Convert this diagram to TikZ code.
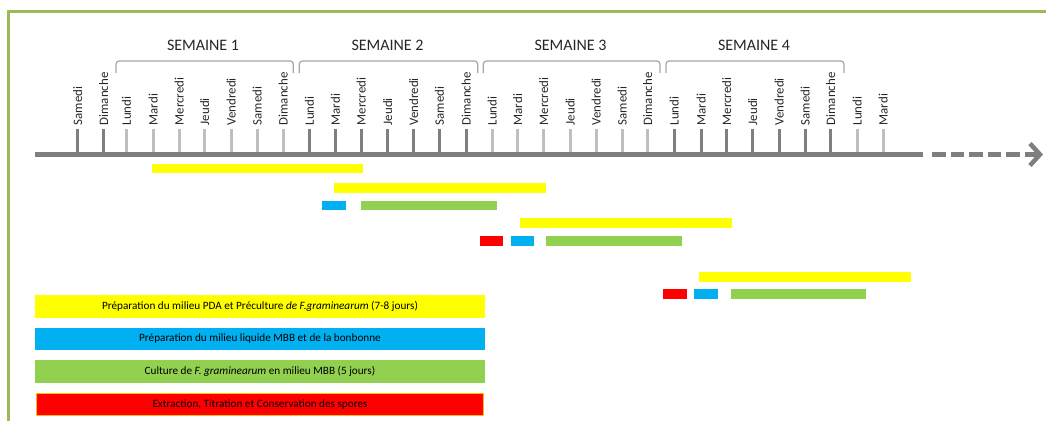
\documentclass[tikz,border=0pt]{standalone}
\usepackage{fontspec}
\setmainfont{Carlito}
\usetikzlibrary{arrows.meta}
\definecolor{frameG}{HTML}{9BBB59}
\definecolor{axisG}{HTML}{7F7F7F}
\definecolor{tickD}{HTML}{7F7F7F}
\definecolor{tickL}{HTML}{BFBFBF}
\definecolor{brk}{HTML}{A6A6A6}
\definecolor{ylw}{HTML}{FFFF00}
\definecolor{blu}{HTML}{00B0F0}
\definecolor{grn}{HTML}{92D050}
\definecolor{rd}{HTML}{FF0000}
\definecolor{txt}{HTML}{262626}
\definecolor{orng}{HTML}{FFC000}
\begin{document}
\begin{tikzpicture}[x=1pt,y=-1pt,
 frame/.style={draw=frameG, line width=3pt},
 axisline/.style={draw=axisG, line width=4.5pt},
 tickline/.style={line width=3pt},
 daylbl/.style={rotate=90, anchor=west, inner sep=0pt, font=\fontsize{12.9}{14}\selectfont, text=txt, text depth=0pt, text height=9pt},
 weeklbl/.style={font=\fontsize{16}{18}\selectfont, text=txt, inner sep=0pt},
 bracket/.style={draw=brk, line width=1.2pt, rounded corners=3pt},
 bar/.style={inner sep=0pt, minimum height=9.5pt, draw=none},
 legend/.style={inner sep=0pt, minimum width=450pt, minimum height=22.7pt, font=\fontsize{11.2}{13}\selectfont, text=black},
]
\useasboundingbox (0,0) rectangle (1046,421);
% frame
\draw[frame] (8.5,421) -- (8.5,11.5) -- (1046,11.5);
% ticks and day labels
\foreach \x/\c/\d [count=\i] in {77.7/tickD/Samedi, 103.7/tickD/Dimanche,
 126.3/tickL/Lundi, 153/tickL/Mardi, 179/tickL/Mercredi, 204.7/tickL/Jeudi, 231/tickL/Vendredi, 257/tickL/Samedi, 283/tickL/Dimanche,
 309.3/tickD/Lundi, 335.3/tickD/Mardi, 361/tickD/Mercredi, 387.7/tickD/Jeudi, 413.7/tickD/Vendredi, 439.3/tickD/Samedi, 466/tickD/Dimanche,
 492/tickL/Lundi, 517.7/tickL/Mardi, 543.7/tickL/Mercredi, 570/tickL/Jeudi, 596/tickL/Vendredi, 622/tickL/Samedi, 647.7/tickL/Dimanche,
 674/tickD/Lundi, 701/tickD/Mardi, 726.7/tickD/Mercredi, 752.7/tickD/Jeudi, 779/tickD/Vendredi, 805/tickD/Samedi, 830.7/tickD/Dimanche,
 857/tickL/Lundi, 883/tickL/Mardi}{
  \coordinate (tb\i) at (\x,154.5);
  \coordinate (tt\i) at (\x,128.5);
  \draw[tickline, \c] (tb\i) -- (tt\i);
  \node[daylbl] (d\i) at (\x,125.5) {\d};
}
% axis
\coordinate (ax0) at (35,154.5);
\coordinate (ax1) at (923,154.5);
\coordinate (ax2) at (932,154.5);
\coordinate (axE) at (1043,154.5);
\draw[axisline] (ax0) -- (ax1);
\draw[axisline, dash pattern=on 13.5pt off 5pt, -{Straight Barb[length=10pt, width=22pt]}] (ax2) -- (axE);
% week brackets
\draw[bracket] (116,73) -- (116,61) -- (293.3,61) -- (293.3,73);
\draw[bracket] (299.3,73) -- (299.3,61) -- (477.7,61) -- (477.7,73);
\draw[bracket] (483.3,73) -- (483.3,61) -- (660,61) -- (660,73);
\draw[bracket] (666,73) -- (666,61) -- (844,61) -- (844,73);
\node[weeklbl] (w1) at (203,45) {SEMAINE 1};
\node[weeklbl] (w2) at (387.5,45) {SEMAINE 2};
\node[weeklbl] (w3) at (570.5,45) {SEMAINE 3};
\node[weeklbl] (w4) at (754,45) {SEMAINE 4};
% bars
\node[bar, fill=ylw, minimum width=211pt] (y1) at (257.5,168.7) {};
\node[bar, fill=ylw, minimum width=211.7pt] (y2) at (440,188) {};
\node[bar, fill=blu, minimum width=23.7pt] (b1) at (334,205.5) {};
\node[bar, fill=grn, minimum width=136pt] (g1) at (429,205.5) {};
\node[bar, fill=ylw, minimum width=212pt] (y3) at (626,223) {};
\node[bar, fill=rd, minimum width=23pt] (r1) at (491,241) {};
\node[bar, fill=blu, minimum width=23.6pt] (b2) at (522.5,241) {};
\node[bar, fill=grn, minimum width=136pt] (g2) at (614.3,241) {};
\node[bar, fill=ylw, minimum width=212pt] (y4) at (805,276.8) {};
\node[bar, fill=rd, minimum width=23.7pt] (r2) at (675.2,294.2) {};
\node[bar, fill=blu, minimum width=23.7pt] (b3) at (706.2,294.2) {};
\node[bar, fill=grn, minimum width=135.3pt] (g3) at (798.7,294.2) {};
% legend
\node[legend, fill=ylw] (ly) at (260,306.3) {Préparation du milieu PDA et Préculture \textit{de F.graminearum} (7-8 jours)};
\node[legend, fill=blu] (lb) at (260,339) {Préparation du milieu liquide MBB et de la bonbonne};
\node[legend, fill=grn] (lg) at (260,371.5) {Culture de \textit{F. graminearum} en milieu MBB (5 jours)};
\node[legend, fill=rd, draw=orng, line width=0.8pt, minimum width=447.5pt, minimum height=22pt] (lr) at (260,404.2) {Extraction, Titration et Conservation des spores};
\end{tikzpicture}
\end{document}
